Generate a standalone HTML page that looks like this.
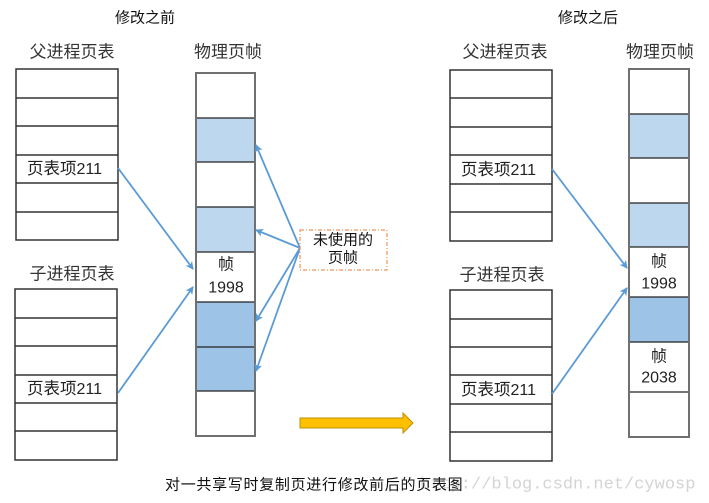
<!DOCTYPE html>
<html><head><meta charset="utf-8"><style>
html,body{margin:0;padding:0;background:#fff;}
svg{display:block;}
text{font-family:"Liberation Sans","Noto Sans CJK SC",sans-serif;}
</style></head><body>
<svg width="709" height="503" viewBox="0 0 709 503" xmlns="http://www.w3.org/2000/svg">
<defs>
<marker id="ah" markerWidth="8" markerHeight="8" refX="7" refY="4" orient="auto" markerUnits="userSpaceOnUse">
<path d="M0,0 L8,4 L0,8 L2,4 Z" fill="#5b9bd5"/>
</marker>
</defs>
<!-- titles -->
<text x="145" y="18" font-size="15" text-anchor="middle" dominant-baseline="central" fill="#111">修改之前</text>
<text x="588" y="18" font-size="15" text-anchor="middle" dominant-baseline="central" fill="#111">修改之后</text>
<g font-size="17" fill="#333" text-anchor="middle" dominant-baseline="central">
<text x="72" y="52">父进程页表</text>
<text x="228" y="52">物理页帧</text>
<text x="72" y="274">子进程页表</text>
<text x="505" y="52">父进程页表</text>
<text x="660" y="52">物理页帧</text>
<text x="502" y="275">子进程页表</text>
</g>

<!-- LEFT parent table -->
<g stroke="#333" stroke-width="1.5" fill="none">
<rect x="16" y="69" width="102" height="171" fill="#fff"/>
<line x1="16" y1="98" x2="118" y2="98"/><line x1="16" y1="126" x2="118" y2="126"/>
<line x1="16" y1="155" x2="118" y2="155"/><line x1="16" y1="183" x2="118" y2="183"/>
<line x1="16" y1="212" x2="118" y2="212"/>
<!-- LEFT child table -->
<rect x="15" y="289" width="102" height="171" fill="#fff"/>
<line x1="15" y1="318" x2="117" y2="318"/><line x1="15" y1="346" x2="117" y2="346"/>
<line x1="15" y1="375" x2="117" y2="375"/><line x1="15" y1="403" x2="117" y2="403"/>
<line x1="15" y1="431" x2="117" y2="431"/>
<!-- RIGHT parent -->
<rect x="450" y="70" width="102" height="171" fill="#fff"/>
<line x1="450" y1="98" x2="552" y2="98"/><line x1="450" y1="127" x2="552" y2="127"/>
<line x1="450" y1="155" x2="552" y2="155"/><line x1="450" y1="184" x2="552" y2="184"/>
<line x1="450" y1="212" x2="552" y2="212"/>
<!-- RIGHT child -->
<rect x="450" y="290" width="102" height="171" fill="#fff"/>
<line x1="450" y1="319" x2="552" y2="319"/><line x1="450" y1="347" x2="552" y2="347"/>
<line x1="450" y1="375" x2="552" y2="375"/><line x1="450" y1="404" x2="552" y2="404"/>
<line x1="450" y1="432" x2="552" y2="432"/>
</g>

<!-- LEFT frames -->
<rect x="196" y="118" width="59" height="44" fill="#bdd7ee"/>
<rect x="196" y="207" width="59" height="45" fill="#bdd7ee"/>
<rect x="196" y="302" width="59" height="89" fill="#9dc3e6"/>
<g stroke="#222" stroke-width="1.2">
<line x1="196" y1="118" x2="255" y2="118"/><line x1="196" y1="162" x2="255" y2="162"/>
<line x1="196" y1="207" x2="255" y2="207"/><line x1="196" y1="252" x2="255" y2="252"/>
<line x1="196" y1="302" x2="255" y2="302"/><line x1="196" y1="347" x2="255" y2="347"/>
<line x1="196" y1="391" x2="255" y2="391"/>
</g>
<rect x="196" y="73" width="59" height="363" fill="none" stroke="#707070" stroke-width="2"/>

<!-- RIGHT frames -->
<rect x="629" y="114" width="60" height="44" fill="#bdd7ee"/>
<rect x="629" y="203" width="60" height="44" fill="#bdd7ee"/>
<rect x="629" y="297" width="60" height="45" fill="#9dc3e6"/>
<g stroke="#222" stroke-width="1.2">
<line x1="629" y1="114" x2="689" y2="114"/><line x1="629" y1="158" x2="689" y2="158"/>
<line x1="629" y1="203" x2="689" y2="203"/><line x1="629" y1="247" x2="689" y2="247"/>
<line x1="629" y1="297" x2="689" y2="297"/><line x1="629" y1="342" x2="689" y2="342"/>
<line x1="629" y1="392" x2="689" y2="392"/>
</g>
<rect x="629" y="69" width="60" height="368" fill="none" stroke="#707070" stroke-width="2"/>

<!-- cell texts -->
<g font-size="16.5" fill="#222" dominant-baseline="central">
<text x="27" y="169">页表项<tspan font-size="16">211</tspan></text>
<text x="27" y="389">页表项<tspan font-size="16">211</tspan></text>
<text x="461" y="170">页表项<tspan font-size="16">211</tspan></text>
<text x="461" y="390">页表项<tspan font-size="16">211</tspan></text>
</g>
<g font-size="16" fill="#222" text-anchor="middle" dominant-baseline="central">
<text x="226" y="265">帧</text>
<text x="226" y="288">1998</text>
<text x="659" y="262">帧</text>
<text x="659" y="284">1998</text>
<text x="659" y="357">帧</text>
<text x="659" y="378">2038</text>
</g>

<!-- arrows -->
<g stroke="#5b9bd5" stroke-width="1.8" fill="none" marker-end="url(#ah)">
<line x1="118" y1="168" x2="193" y2="269"/>
<line x1="118" y1="393" x2="193" y2="287"/>
<line x1="300" y1="248" x2="256" y2="145"/>
<line x1="300" y1="248" x2="256" y2="230"/>
<line x1="300" y1="248" x2="256" y2="321"/>
<line x1="300" y1="248" x2="256" y2="371"/>
<line x1="552" y1="169" x2="627" y2="268"/>
<line x1="552" y1="394" x2="627" y2="288"/>
</g>

<!-- dashed box -->
<rect x="300" y="230" width="87" height="40" fill="#fff" stroke="#ed7d31" stroke-width="1" stroke-dasharray="4,2,1,2"/>
<g font-size="15" fill="#111" text-anchor="middle" dominant-baseline="central">
<text x="343" y="240">未使用的</text>
<text x="343" y="258">页帧</text>
</g>

<!-- big arrow -->
<polygon points="300,418 403,418 403,413 413,423 403,433 403,428 300,428" fill="#ffc000" stroke="#bf9000" stroke-width="1"/>

<!-- caption and watermark -->
<text x="420" y="485" font-size="17" fill="#d4d4d4" dominant-baseline="central" style="font-family:'Liberation Mono',monospace">http://blog.csdn.net/cywosp</text>
<text x="165" y="485" font-size="15" fill="#111" dominant-baseline="central" letter-spacing="0.7">对一共享写时复制页进行修改前后的页表图</text>
</svg>
</body></html>
